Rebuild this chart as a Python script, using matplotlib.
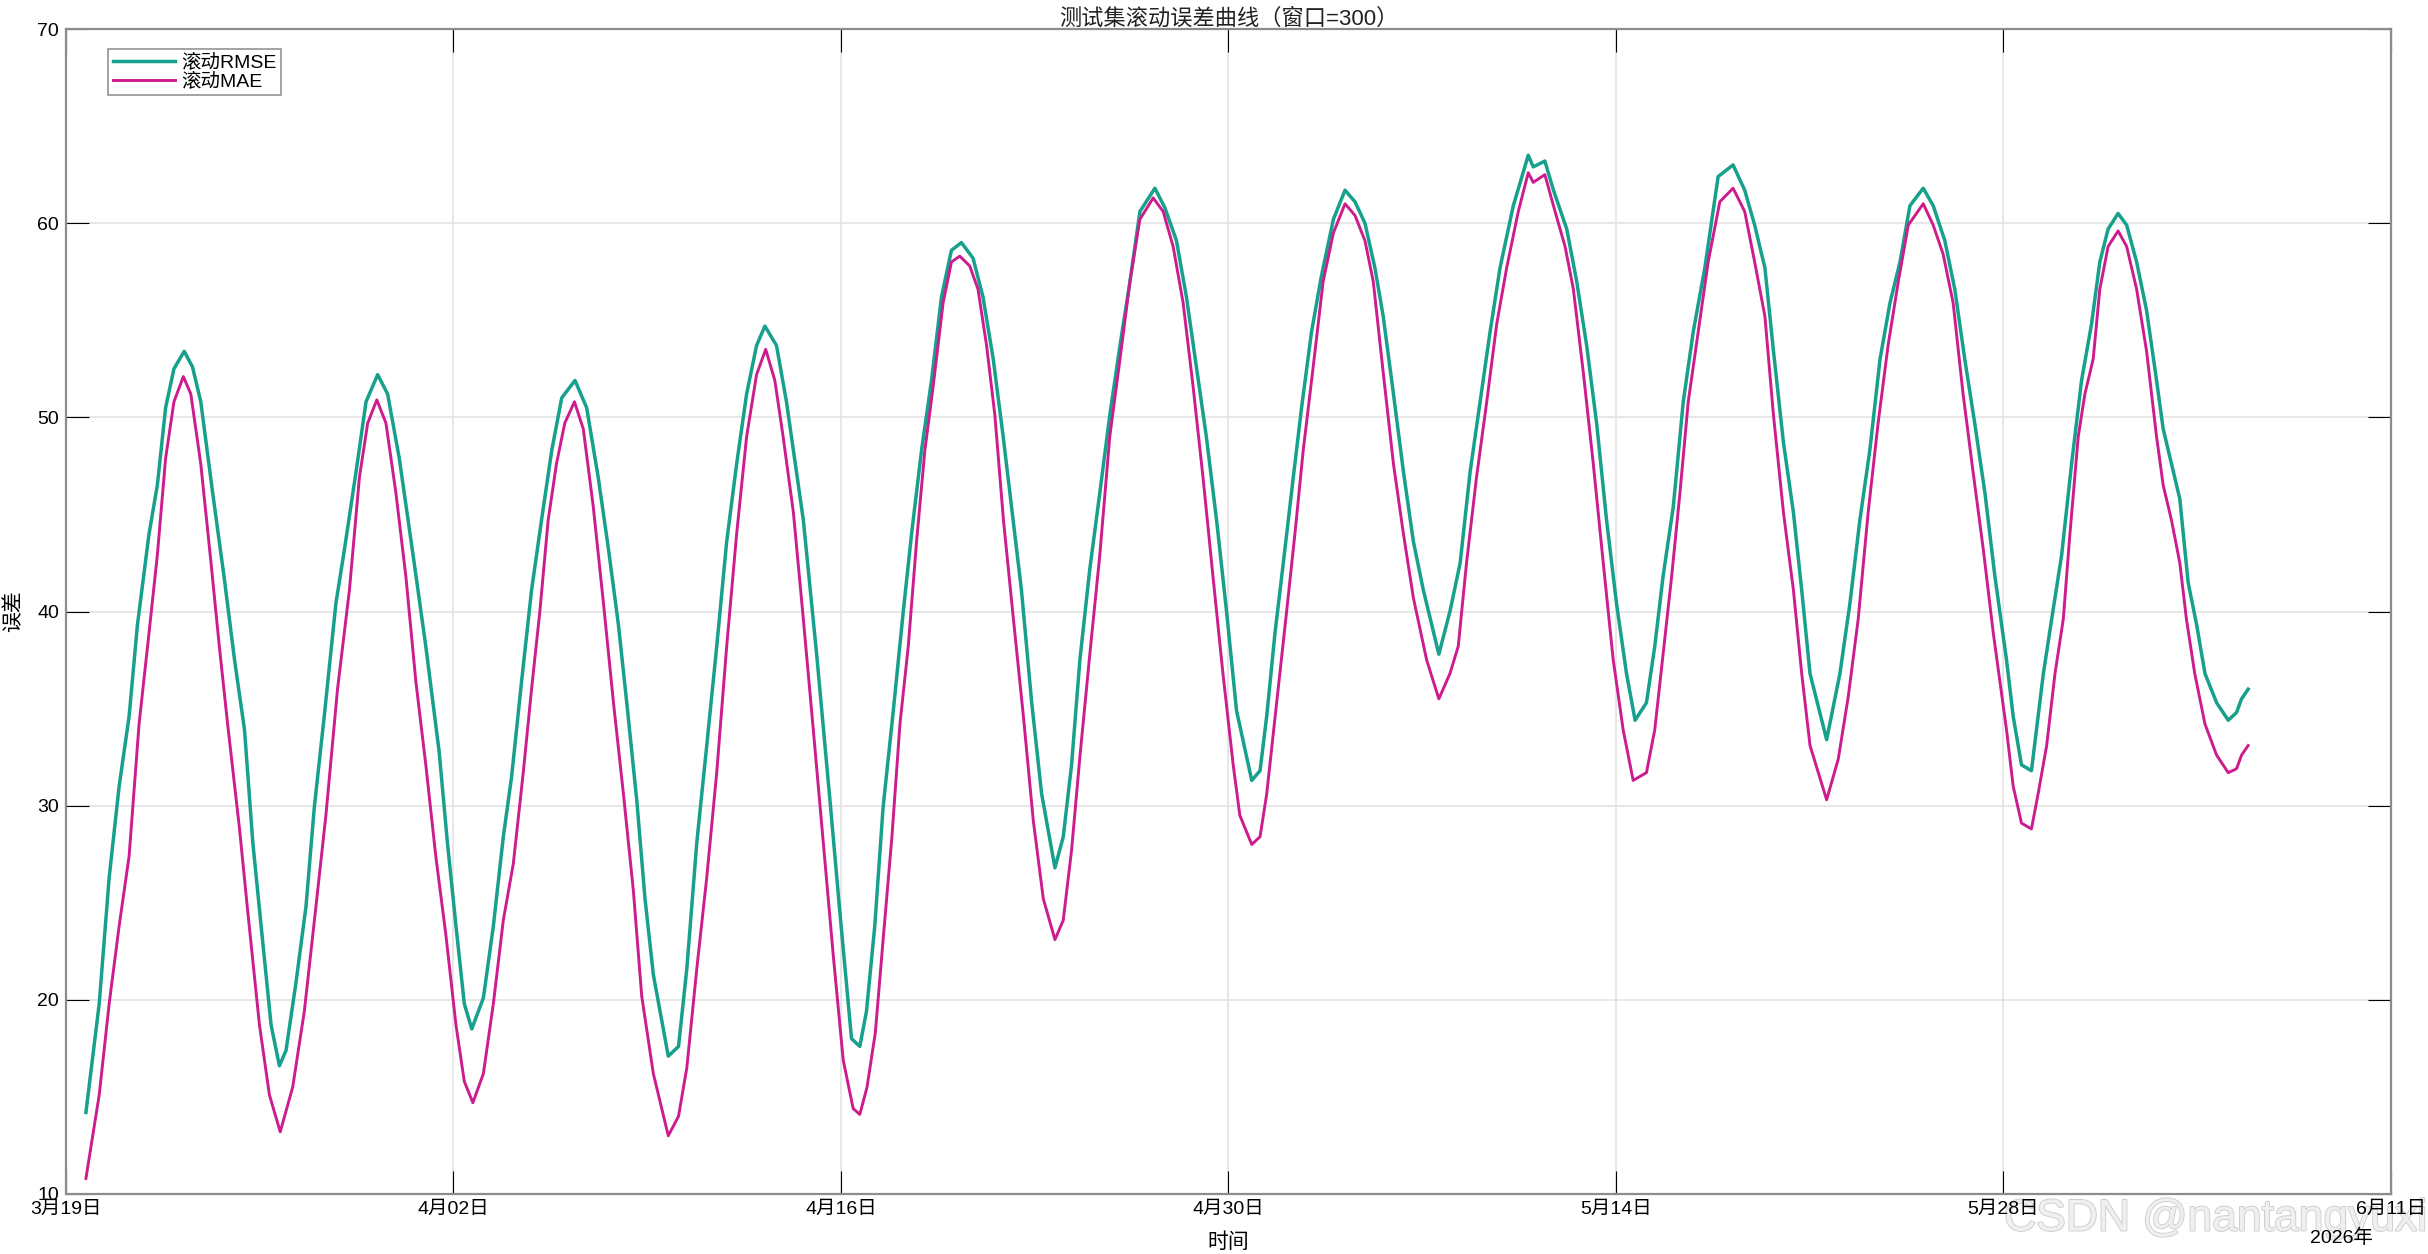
import numpy as np
import pandas as pd
import matplotlib
matplotlib.use("Agg")
import matplotlib.pyplot as plt
import matplotlib.dates as mdates
import matplotlib.patheffects as pe
from matplotlib.ticker import FuncFormatter

plt.rcParams['font.family'] = ['Liberation Sans', 'Noto Sans CJK SC']

# 时间以 2026-03-19 00:00 起的天数表示
start = pd.Timestamp('2026-03-19')

rmse_days = [0.72, 1.2, 1.56, 1.92, 2.28, 2.58, 3.0, 3.3, 3.6, 3.9, 4.27, 4.57, 4.87, 5.3, 5.71, 6.09, 6.45, 6.75,
             7.05, 7.41, 7.71, 7.95, 8.31, 8.67, 8.97, 9.33, 9.75, 10.06, 10.48, 10.84, 11.26, 11.62, 12.04, 12.58,
             13.0, 13.48, 13.78, 14.09, 14.39, 14.66, 15.08, 15.44, 15.8, 16.1, 16.46, 16.82, 17.18, 17.55, 17.91,
             18.39, 18.81, 19.23, 19.6, 19.96, 20.26, 20.62, 20.92, 21.22, 21.76, 22.13, 22.43, 22.79, 23.15, 23.51,
             23.87, 24.23, 24.59, 24.95, 25.25, 25.67, 26.03, 26.64, 27.12, 27.6, 27.96, 28.38, 28.68, 28.92, 29.22,
             29.52, 29.89, 30.25, 30.55, 30.91, 31.27, 31.63, 31.99, 32.35, 32.77, 33.13, 33.5, 33.86, 34.22, 34.52,
             34.89, 35.25, 35.73, 36.03, 36.33, 36.63, 36.99, 37.35, 37.71, 38.08, 38.44, 38.8, 39.34, 39.7, 40.12,
             40.48, 40.84, 41.2, 41.57, 41.93, 42.29, 42.84, 43.14, 43.38, 43.68, 43.98, 44.34, 44.64, 45.0, 45.36,
             45.79, 46.21, 46.57, 46.93, 47.29, 47.59, 47.96, 48.32, 48.68, 49.04, 49.6, 50.0, 50.37, 50.73, 51.09,
             51.45, 51.81, 52.29, 52.83, 53.01, 53.43, 53.74, 54.22, 54.58, 54.94, 55.3, 55.66, 56.02, 56.38, 56.69,
             57.1, 57.4, 57.7, 58.07, 58.43, 58.79, 59.21, 59.69, 60.23, 60.65, 61.01, 61.38, 61.69, 62.05, 62.41,
             62.71, 63.01, 63.61, 64.09, 64.45, 64.81, 65.17, 65.54, 65.9, 66.26, 66.62, 67.1, 67.46, 67.88, 68.24,
             68.6, 68.96, 69.33, 69.69, 70.11, 70.35, 70.65, 71.01, 71.19, 71.44, 71.74, 72.1, 72.46, 72.82, 73.18,
             73.48, 73.78, 74.14, 74.45, 74.81, 75.17, 75.53, 75.77, 76.07, 76.37, 76.67, 76.98, 77.28, 77.7, 78.12,
             78.42, 78.6, 78.84]
rmse_vals = [14.2, 19.8, 26.3, 31.0, 34.6, 39.3, 44.0, 46.5, 50.5, 52.5, 53.4, 52.6, 50.8, 46.1, 41.8, 37.5, 33.9, 28.1,
             23.8, 18.7, 16.6, 17.4, 20.9, 24.8, 29.9, 34.6, 40.4, 43.2, 47.2, 50.8, 52.2, 51.2, 47.9, 42.5,
             38.2, 32.8, 28.1, 23.8, 19.8, 18.5, 20.1, 23.8, 28.4, 31.5, 36.4, 41.1, 44.7, 48.3, 51.0,
             51.9, 50.5, 46.9, 43.2, 39.3, 35.3, 30.3, 25.2, 21.3, 17.1, 17.6, 21.6, 28.1, 33.1, 38.2,
             43.6, 47.6, 51.2, 53.7, 54.7, 53.7, 50.8, 44.7, 37.8, 30.3, 24.5, 18.0, 17.6, 19.4, 23.8,
             29.9, 34.9, 40.0, 44.0, 48.3, 51.9, 56.2, 58.6, 59.0, 58.2, 56.2, 53.0, 49.0, 44.7, 41.1,
             35.3, 30.6, 26.8, 28.4, 32.1, 37.5, 42.2, 46.1, 50.1, 53.7, 57.0, 60.6, 61.8, 60.8, 59.1,
             56.2, 52.6, 49.0, 44.7, 40.0, 34.9, 31.3, 31.8, 34.6, 38.9, 42.5, 46.9, 50.5, 54.4, 57.3,
             60.2, 61.7, 61.1, 60.0, 57.7, 55.2, 51.2, 47.2, 43.6, 41.1, 37.8, 40.0, 42.5, 47.2, 50.8,
             54.4, 57.7, 60.9, 63.5, 62.9, 63.2, 61.7, 59.7, 57.0, 53.7, 49.7, 44.7, 40.4, 36.8, 34.4,
             35.3, 38.2, 41.8, 45.4, 50.8, 54.4, 57.7, 62.4, 63.0, 61.7, 59.9, 57.7, 53.4, 48.7, 45.1,
             41.1, 36.8, 33.4, 36.8, 40.4, 44.7, 48.3, 53.0, 55.9, 58.0, 60.9, 61.8, 60.9, 59.1, 56.6,
             53.0, 49.7, 46.1, 41.8, 37.5, 34.6, 32.1, 31.8, 33.9, 36.8, 39.6, 42.9, 47.6, 51.9, 54.8,
             58.0, 59.7, 60.5, 59.9, 58.0, 55.5, 51.9, 49.4, 47.6, 45.8, 41.5, 39.3, 36.8, 35.3, 34.4,
             34.8, 35.5, 36.0]

mae_days = [0.72, 1.2, 1.56, 1.92, 2.28, 2.64, 3.0, 3.3, 3.6, 3.9, 4.24, 4.51, 4.87, 5.24, 5.54, 5.84, 6.27, 6.57,
            6.99, 7.35, 7.74, 8.19, 8.61, 9.03, 9.39, 9.81, 10.24, 10.6, 10.9, 11.23, 11.56, 11.92, 12.28, 12.64,
            13.0, 13.36, 13.72, 14.09, 14.39, 14.7, 15.08, 15.44, 15.8, 16.16, 16.52, 16.82, 17.12, 17.42, 17.72,
            18.02, 18.37, 18.69, 19.05, 19.42, 19.78, 20.14, 20.5, 20.8, 21.22, 21.76, 22.13, 22.43, 22.79, 23.15,
            23.51, 23.87, 24.23, 24.59, 24.95, 25.28, 25.61, 25.91, 26.28, 26.64, 27.0, 27.36, 27.72, 28.08, 28.44,
            28.68, 28.94, 29.24, 29.54, 29.84, 30.13, 30.43, 30.73, 31.03, 31.33, 31.69, 31.99, 32.29, 32.65, 32.95,
            33.26, 33.56, 33.87, 34.23, 34.59, 34.95, 35.31, 35.73, 36.03, 36.33, 36.63, 36.99, 37.35, 37.71, 38.08,
            38.44, 38.8, 39.28, 39.64, 40.0, 40.36, 40.72, 41.08, 41.44, 41.8, 42.17, 42.41, 42.84, 43.14, 43.38,
            43.74, 44.1, 44.4, 44.7, 45.06, 45.42, 45.79, 46.21, 46.57, 46.93, 47.23, 47.59, 47.96, 48.32, 48.68,
            49.16, 49.6, 50.0, 50.3, 50.6, 50.96, 51.33, 51.69, 52.05, 52.47, 52.83, 53.01, 53.43, 53.74, 54.16,
            54.46, 54.82, 55.18, 55.54, 55.9, 56.26, 56.62, 57.1, 57.4, 57.7, 58.01, 58.31, 58.61, 58.97, 59.33,
            59.75, 60.23, 60.65, 61.01, 61.38, 61.69, 62.05, 62.41, 62.71, 63.01, 63.31, 63.61, 64.03, 64.39, 64.75,
            65.11, 65.47, 65.83, 66.2, 66.56, 67.1, 67.46, 67.82, 68.18, 68.54, 68.9, 69.27, 69.63, 70.11, 70.35,
            70.65, 71.01, 71.25, 71.56, 71.86, 72.16, 72.4, 72.7, 72.94, 73.24, 73.48, 73.78, 74.14, 74.45, 74.81,
            75.17, 75.53, 75.77, 76.07, 76.37, 76.61, 76.91, 77.28, 77.7, 78.12, 78.42, 78.6, 78.84]
mae_vals = [10.8, 15.1, 19.8, 23.8, 27.4, 34.2, 38.9, 42.9, 47.9, 50.8, 52.1, 51.2, 47.6, 42.5, 38.2, 34.2, 28.8, 24.5,
            18.7, 15.1, 13.2, 15.5, 19.4, 24.8, 29.5, 36.0, 41.1, 46.9, 49.7, 50.9, 49.7, 46.1, 41.8, 36.4,
            32.1, 27.4, 23.4, 18.7, 15.8, 14.7, 16.2, 19.8, 24.1, 27.0, 31.7, 36.0, 40.0, 44.7, 47.6,
            49.7, 50.8, 49.4, 45.4, 40.4, 35.3, 30.6, 25.6, 20.2, 16.2, 13.0, 14.0, 16.5, 21.6, 26.3,
            31.7, 38.2, 44.0, 49.0, 52.2, 53.5, 51.9, 49.0, 45.1, 39.6, 33.9, 28.1, 22.3, 16.9, 14.4,
            14.1, 15.5, 18.3, 23.4, 28.4, 34.2, 38.2, 43.6, 48.3, 51.6, 55.9, 58.0, 58.3, 57.8, 56.6,
            53.7, 50.1, 44.7, 39.6, 34.6, 29.2, 25.2, 23.1, 24.1, 27.7, 32.5, 37.8, 42.9, 49.0, 53.0,
            57.0, 60.2, 61.3, 60.6, 58.8, 55.9, 51.6, 46.9, 41.8, 36.8, 32.1, 29.5, 28.0, 28.4, 30.6,
            35.3, 40.0, 44.0, 48.3, 52.6, 57.0, 59.5, 61.0, 60.4, 59.1, 57.0, 52.3, 47.6, 44.0, 40.7,
            37.5, 35.5, 36.8, 38.2, 42.5, 46.9, 50.8, 54.8, 57.7, 60.6, 62.6, 62.1, 62.5, 60.9, 58.8,
            56.6, 52.3, 47.6, 42.5, 37.5, 33.9, 31.3, 31.7, 33.9, 37.8, 41.8, 46.1, 50.8, 54.4, 58.0,
            61.1, 61.8, 60.6, 58.0, 55.2, 50.1, 45.1, 41.1, 36.8, 33.1, 31.7, 30.3, 32.4, 35.6, 39.6,
            45.1, 49.7, 53.7, 57.0, 59.9, 61.0, 59.9, 58.4, 55.9, 51.2, 47.2, 43.2, 38.9, 33.9, 31.0,
            29.1, 28.8, 30.6, 33.1, 36.8, 39.6, 44.0, 49.0, 51.2, 53.0, 56.6, 58.8, 59.6, 58.8, 56.6,
            53.4, 49.0, 46.5, 44.7, 42.5, 39.6, 36.8, 34.2, 32.6, 31.7, 31.9, 32.6, 33.1]

tick_days = [0, 14, 28, 42, 56, 70, 84]
y_ticks = [10, 20, 30, 40, 50, 60, 70]

rmse_t = start + pd.to_timedelta(rmse_days, unit='D')
mae_t = start + pd.to_timedelta(mae_days, unit='D')
ticks_t = start + pd.to_timedelta(tick_days, unit='D')

fig = plt.figure(figsize=(24.28, 12.54), dpi=100)
ax = fig.add_axes([0.02718, 0.04785, 0.95758, 0.92902])

ax.plot(rmse_t, rmse_vals, color='#17A08C', lw=2.5, label='滚动RMSE', solid_joinstyle='round')
ax.plot(mae_t, mae_vals, color='#CC1C8E', lw=2.1, label='滚动MAE', solid_joinstyle='round')

ax.set_xlim(ticks_t[0], ticks_t[-1])
ax.set_ylim(10, 70)
ax.set_xticks(ticks_t)
ax.set_yticks(y_ticks)
ax.xaxis.set_major_formatter(FuncFormatter(
    lambda v, p: f'{mdates.num2date(v).month}月{mdates.num2date(v).day:02d}日'))

ax.grid(True, color='#e3e3e3', lw=1.2)
ax.set_axisbelow(True)
for s in ax.spines.values():
    s.set_color('#8c8c8c')
    s.set_linewidth(1.6)
ax.tick_params(direction='in', length=16.5, width=0.8, color='black',
               top=True, right=True, labelsize=14, pad=5)

ax.set_title('测试集滚动误差曲线（窗口=300）', fontsize=16, pad=3, color='#222222')
ax.set_xlabel('时间', fontsize=15)
ax.set_ylabel('误差', fontsize=15)
ax.xaxis.label.set_va('center')
ax.yaxis.label.set_va('center')
ax.xaxis.set_label_coords(0.5, -0.041)
ax.yaxis.set_label_coords(-0.0224, 0.5)

fig.text(0.9773, 0.0128, '2026年', fontsize=14, ha='right', va='center', zorder=5)

leg = ax.legend(loc='upper left', bbox_to_anchor=(0.0445, 0.961), bbox_transform=fig.transFigure,
                fontsize=14, frameon=True, fancybox=False, edgecolor='#8c8c8c',
                handlelength=3.2, handletextpad=0.3, labelspacing=0.05, borderpad=0.25,
                borderaxespad=0)
leg.get_frame().set_linewidth(1.4)

# 水印（放在坐标轴文字之后）
fig.text(0.8254, 0.0279, 'CSDN @nantangyuxi', fontsize=32, color='#f0f0f0', ha='left', va='center',
         zorder=-1, alpha=0.85,
         path_effects=[pe.withStroke(linewidth=1.4, foreground='#c4c4c4'), pe.Normal()])

fig.savefig('out.png', dpi=100)
